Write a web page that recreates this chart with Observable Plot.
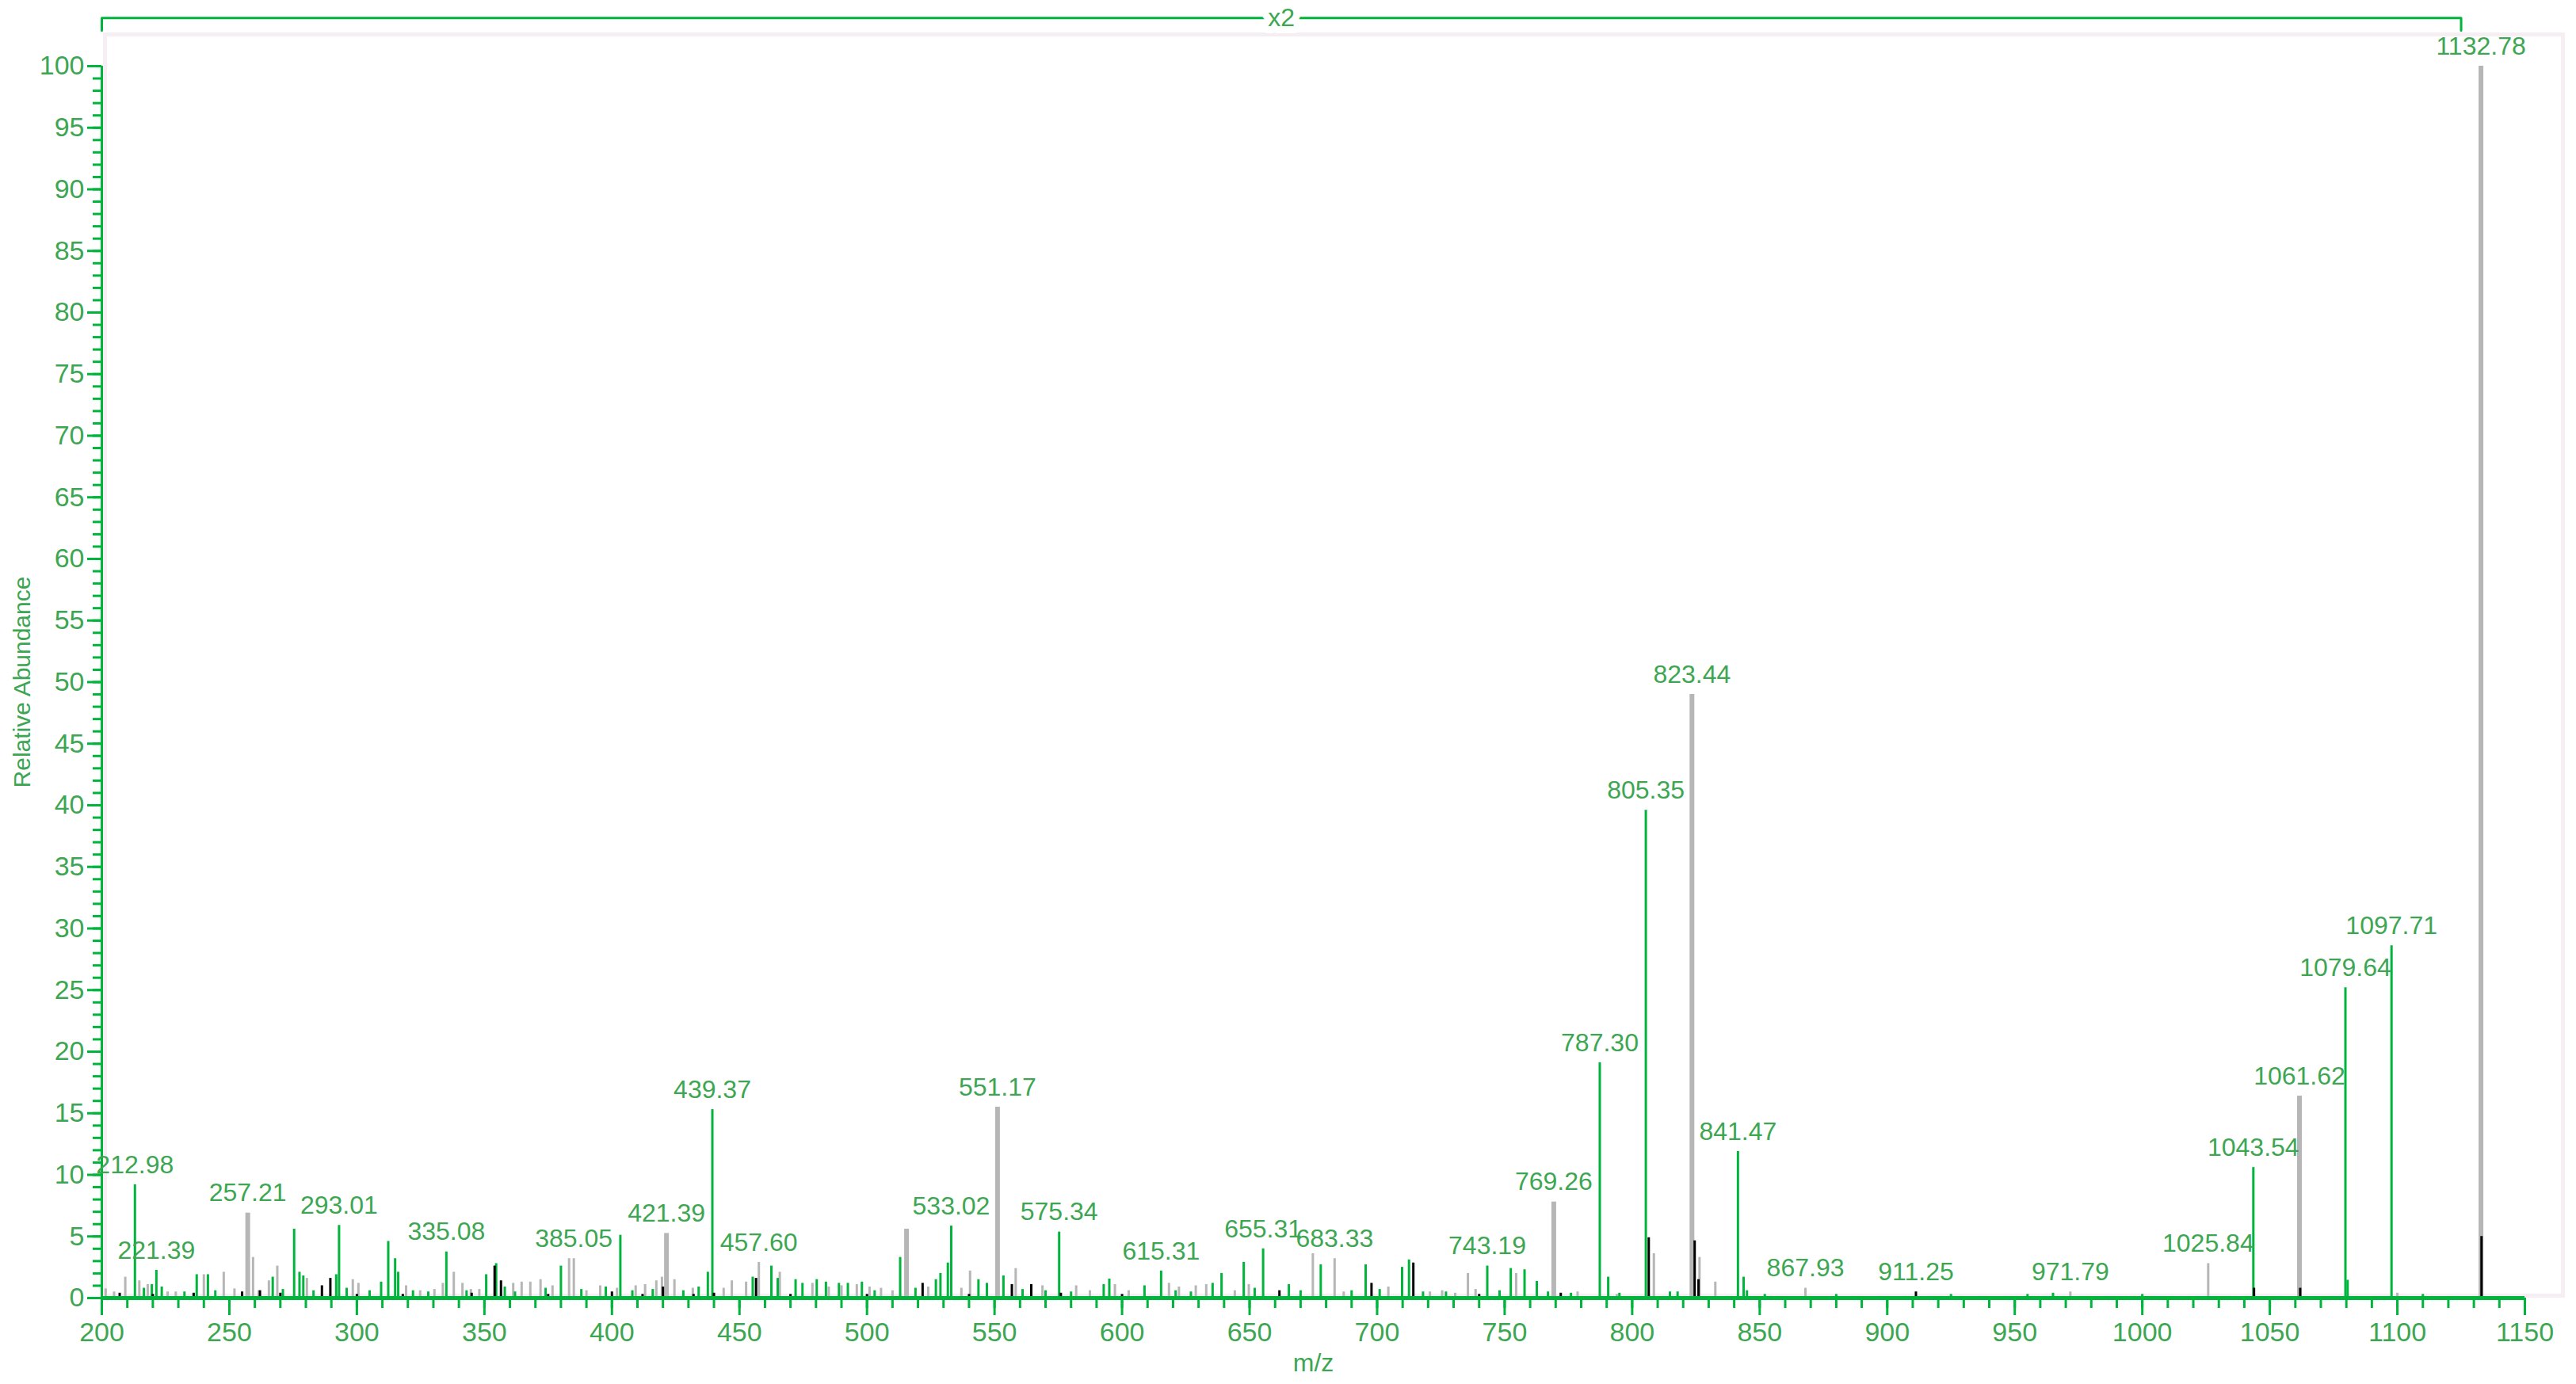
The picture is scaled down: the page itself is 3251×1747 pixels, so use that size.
<!DOCTYPE html>
<html>
<head>
<meta charset="utf-8">
<script src="https://cdn.jsdelivr.net/npm/d3@7"></script>
<script src="https://cdn.jsdelivr.net/npm/@observablehq/plot@0.6"></script>
<style>
  html, body { margin: 0; padding: 0; background: #ffffff; }
  #chart { width: 3251px; height: 1747px; }
</style>
</head>
<body>
<div id="chart"></div>
<script>
// ---- Data (m/z, relative abundance) ----
const greenMz = [212.98,216.5,219.6,221.39,223.5,232.4,237.2,241.6,244.5,267.0,271.0,275.4,277.5,279.0,283.0,291.9,293.01,296.0,305.0,309.5,312.3,315.0,316.2,322.0,328.0,335.08,343.0,350.7,354.6,358.0,362.0,374.0,380.0,388.0,397.6,403.3,408.0,416.0,428.0,434.0,437.6,439.37,455.2,462.5,465.0,472.0,474.7,480.3,483.9,489.0,492.5,498.0,503.0,513.0,519.0,527.0,528.8,531.7,533.02,543.7,547.0,553.5,561.0,570.0,575.34,580.0,592.8,595.0,608.8,615.31,621.0,627.0,635.5,639.0,647.7,652.0,655.31,665.4,670.0,677.9,690.0,695.5,701.0,709.8,712.5,718.0,727.0,743.19,748.0,752.4,757.8,762.6,767.0,776.0,787.30,790.6,795.0,805.35,814.8,817.8,841.47,843.7,845.0,852.0,880.0,925.0,955.0,965.0,1000.0,1043.54,1079.64,1080.5,1097.71,1110.0];
const greenInt = [9.2,0.8,1.1,2.25,0.9,0.5,1.9,1.9,0.6,1.7,0.7,5.6,2.1,1.8,0.6,1.9,5.9,0.8,0.6,1.3,4.6,3.2,2.1,0.6,0.5,3.75,0.6,1.9,2.8,0.9,0.5,0.8,2.6,0.7,0.9,5.1,0.6,0.7,0.6,0.9,2.1,15.3,1.7,2.6,1.6,1.5,1.2,1.5,1.3,1.2,1.2,1.3,0.6,3.3,0.8,1.5,2.0,2.85,5.85,1.5,1.2,1.8,0.7,0.6,5.36,0.5,1.1,1.55,1.0,2.2,0.6,0.5,1.2,2.0,2.9,0.8,4.0,1.1,0.6,2.7,0.6,2.7,0.7,2.5,3.1,0.5,0.5,2.6,0.6,2.4,2.3,1.35,0.5,0.4,19.1,1.7,0.4,39.6,0.5,0.5,11.9,1.7,0.6,0.3,0.3,0.3,0.3,0.4,0.3,10.6,25.2,1.45,28.6,0.3];

const grayMz = [201.5,204.8,209.2,214.7,218.0,225.8,229.0,240.0,247.8,252.0,257.21,259.3,261.5,265.5,268.8,280.4,298.4,300.6,319.3,324.8,330.4,333.7,338.0,341.4,344.7,348.0,361.3,364.6,368.0,372.0,376.7,383.2,385.05,390.0,395.4,402.0,409.3,413.0,417.4,419.6,421.39,424.5,431.7,443.8,447.0,452.6,457.60,465.8,478.6,485.0,490.0,496.0,501.0,505.5,510.0,515.5,524.0,537.0,540.4,551.17,558.3,568.8,582.0,587.4,597.2,602.6,618.4,622.3,628.9,633.0,644.2,649.7,674.8,683.33,686.9,704.4,720.7,725.5,730.6,735.6,738.6,754.5,769.26,778.6,794.0,808.5,823.44,826.4,832.6,867.93,971.79,1025.84,1061.62,1100.0,1132.78];
const grayInt = [0.75,0.5,1.7,1.4,1.1,0.5,0.5,1.9,2.1,0.75,6.9,3.3,0.6,1.4,2.6,1.6,1.5,1.2,1.0,0.6,0.7,1.2,2.1,1.2,0.7,0.7,1.2,1.3,1.3,1.5,1.0,3.2,3.2,0.6,1.0,0.8,1.0,1.1,1.4,1.7,5.25,1.5,0.8,0.8,1.4,1.3,2.9,2.1,1.2,0.9,1.0,1.1,0.9,0.8,0.6,5.6,0.9,0.8,2.2,15.5,2.4,1.0,1.0,0.6,1.1,0.6,1.2,0.9,1.0,1.1,0.6,1.1,3.6,3.2,0.5,0.9,0.5,0.6,0.4,2.0,0.7,2.0,7.8,0.5,0.3,3.6,49.0,3.3,1.3,0.8,0.5,2.8,16.4,0.4,100];

const blackMz = [207,220,236,255,262,270,286.3,289.6,300,318,345,354,356.5,375,400,412,420,432,440,456.5,470,500,521.8,540,556.8,564.4,576,600,661.7,697.8,714.2,740,772,806.5,824.5,826,911.25,1043.8,1061.9,1133.0];
const blackInt = [0.4,0.3,0.4,0.5,0.6,0.4,1.0,1.6,0.3,0.3,0.4,2.6,1.4,0.3,0.5,0.3,0.9,0.3,0.4,1.6,0.3,0.3,1.2,0.3,1.1,1.1,0.4,0.3,0.6,1.2,2.85,0.3,0.4,4.9,4.65,1.5,0.5,0.8,0.8,5.0];

const labelMz  = [212.98,221.39,257.21,293.01,335.08,385.05,421.39,439.37,457.60,533.02,551.17,575.34,615.31,655.31,683.33,743.19,769.26,787.30,805.35,823.44,841.47,867.93,911.25,971.79,1025.84,1043.54,1061.62,1079.64,1097.71,1132.78];
const labelInt = [9.2,2.25,6.9,5.9,3.75,3.2,5.25,15.3,2.9,5.85,15.5,5.36,2.2,4.0,3.2,2.6,7.8,19.1,39.6,49.0,11.9,0.8,0.5,0.5,2.8,10.6,16.4,25.2,28.6,100];
const labelText = ["212.98","221.39","257.21","293.01","335.08","385.05","421.39","439.37","457.60","533.02","551.17","575.34","615.31","655.31","683.33","743.19","769.26","787.30","805.35","823.44","841.47","867.93","911.25","971.79","1025.84","1043.54","1061.62","1079.64","1097.71","1132.78"];

const xTicksMajor = [200,250,300,350,400,450,500,550,600,650,700,750,800,850,900,950,1000,1050,1100,1150];
const yTicksMajor = [0,5,10,15,20,25,30,35,40,45,50,55,60,65,70,75,80,85,90,95,100];
const magRange = [200, 1125];
const magLabel = "x2";
const xTitle = "m/z";
const yTitle = "Relative Abundance";

// ---- Build tables ----
const zip = (a, b) => a.map((m, i) => ({mz: m, ab: b[i]}));
const greenData = zip(greenMz, greenInt);
const grayData = zip(grayMz, grayInt);
const blackData = zip(blackMz, blackInt);
const labels = labelMz.map((m, i) => ({mz: m, ab: labelInt[i], text: labelText[i]}));

const GREEN = "#00b43c";
const GRAY = "#b6b6b6";
const TEXT = "#3da653";
const FONT = "'Liberation Sans', Arial, sans-serif";

const xMinor = d3.range(200, 1151, 10);
const yMinor = d3.range(0, 101, 1);

// bracket for magnification region (drawn slightly above the 100% level)
const bracketTop = 103.9, bracketDrop = 1.0;
const bracket = [
  {mz: magRange[0], ab: bracketTop - bracketDrop},
  {mz: magRange[0], ab: bracketTop},
  {mz: magRange[1], ab: bracketTop},
  {mz: magRange[1], ab: bracketTop - bracketDrop}
];

const chart = Plot.plot({
  width: 3251,
  height: 1747,
  marginLeft: 128,
  marginRight: 65,
  marginTop: 83,
  marginBottom: 109,
  style: {fontFamily: FONT, fontSize: "34px", background: "#ffffff"},
  x: {domain: [200, 1150]},
  y: {domain: [0, 100]},
  marks: [
    Plot.frame({stroke: "#f5eff3", strokeWidth: 5, insetTop: -40, insetRight: -48, insetLeft: 4, insetBottom: 3}),
    // peaks
    Plot.ruleX(grayData, {x: "mz", y1: 0, y2: "ab", stroke: GRAY, strokeWidth: d => d.ab > 5 ? 6 : 3}),
    Plot.ruleX(greenData, {x: "mz", y1: 0, y2: "ab", stroke: GREEN, strokeWidth: 3}),
    Plot.ruleX(blackData, {x: "mz", y1: 0, y2: "ab", stroke: "#000000", strokeWidth: 3}),
    // axes lines
    Plot.ruleY([0], {stroke: GREEN, strokeWidth: 5}),
    Plot.ruleX([200], {stroke: GREEN, strokeWidth: 3}),
    // y axis
    Plot.axisY({ticks: yMinor, tickSize: 11, tickFormat: () => "", stroke: GREEN, strokeWidth: 3, label: null}),
    Plot.axisY({ticks: yTicksMajor, tickSize: 18, tickPadding: 4, tickFormat: d => String(d), stroke: GREEN, fill: TEXT, strokeWidth: 3, fontSize: 34, label: null}),
    // x axis
    Plot.axisX({ticks: xMinor, tickSize: 13, tickFormat: () => "", stroke: GREEN, strokeWidth: 3, label: null}),
    Plot.axisX({ticks: xTicksMajor, tickSize: 22, tickPadding: 8, tickFormat: d => String(d), stroke: GREEN, fill: TEXT, strokeWidth: 3, fontSize: 34, label: null}),
    // titles
    Plot.text([xTitle], {frameAnchor: "bottom", dy: 92, text: d => d, fill: TEXT, fontSize: 32}),
    Plot.text([yTitle], {frameAnchor: "left", textAnchor: "middle", dx: -100, rotate: -90, text: d => d, fill: TEXT, fontSize: 30}),
    // peak labels
    Plot.text(labels, {x: "mz", y: "ab", text: "text", dy: -25, fill: TEXT, fontSize: 32}),
    // magnification bracket
    Plot.line(bracket, {x: "mz", y: "ab", stroke: GREEN, strokeWidth: 3}),
    Plot.text([magLabel], {x: (magRange[0] + magRange[1]) / 2, y: bracketTop, text: d => d, fill: TEXT, stroke: "#ffffff", strokeWidth: 18, paintOrder: "stroke", fontSize: 32})
  ]
});

document.getElementById("chart").appendChild(chart);
</script>
</body>
</html>
